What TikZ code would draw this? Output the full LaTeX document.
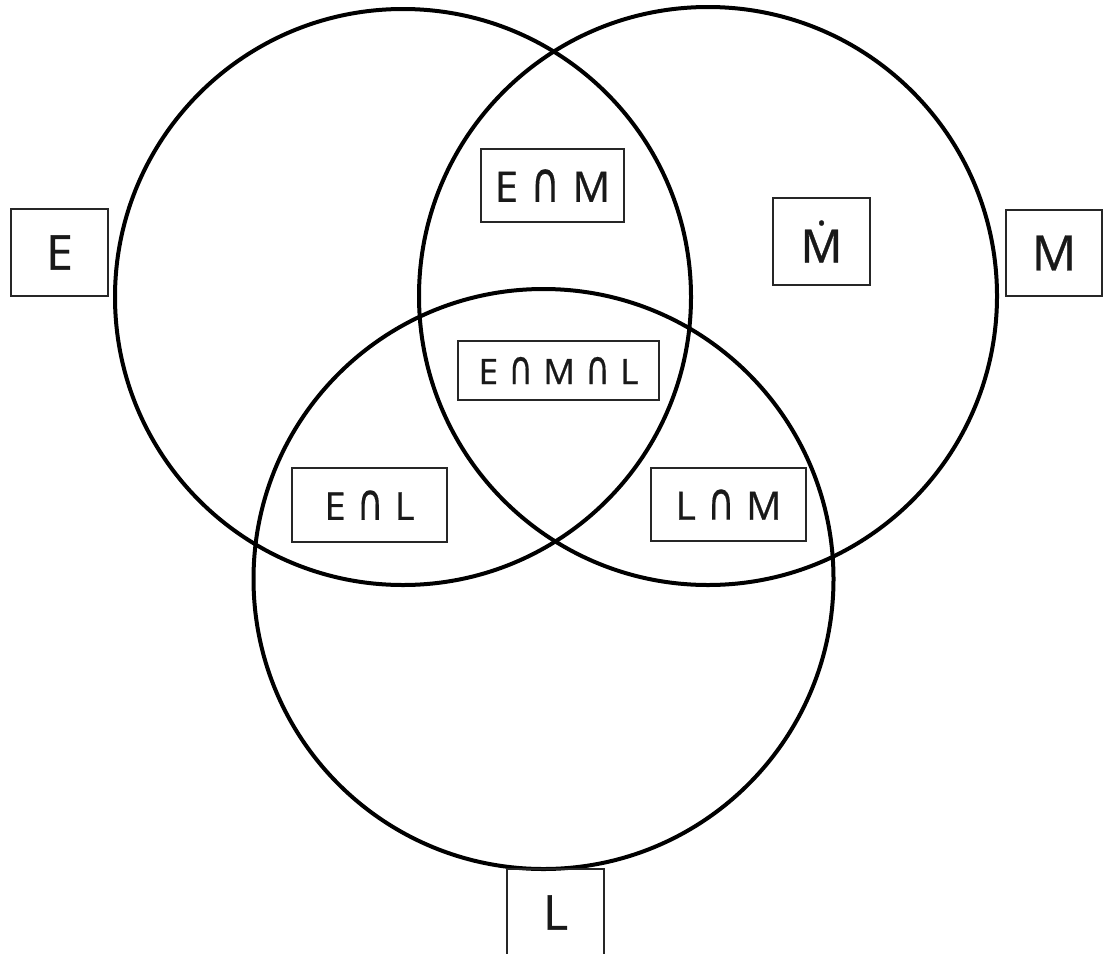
\documentclass[tikz,border=0pt]{standalone}
\usepackage{fontspec}
\usepackage{graphicx}
\setmainfont{Open Sans}[FakeBold=0.7]
\newfontfamily\symfont{DejaVu Sans}[FakeBold=0.3]
\newfontfamily\notofont{Noto Sans}[FakeBold=0.7]
\newcommand{\capop}{\hspace{0.3em}\scalebox{0.95}[1.34]{\symfont\char"2229}\hspace{0.3em}}
\begin{document}
\begin{tikzpicture}[x=1pt,y=-1pt,
  ring/.style={circle,draw=black,line width=4pt,inner sep=0pt},
  lbl/.style={draw=black!85,line width=1.6pt,inner sep=0pt,align=center,text=black!90}]
\useasboundingbox (0,0) rectangle (1107,953);
\clip (0,0) rectangle (1107,953);
\node[ring,minimum size=576pt] (cE) at (403,297) {};
\node[ring,minimum size=578pt] (cM) at (708,296) {};
\node[ring,minimum size=580pt] (cL) at (543.5,579) {};
\node[lbl,minimum width=97pt,minimum height=87pt,font=\fontsize{48}{50}\selectfont] (bE) at (59.5,252.5) {E};
\node[lbl,minimum width=96pt,minimum height=86pt,font=\fontsize{49}{50}\selectfont] (bM) at (1054,253) {M};
\node[lbl,minimum width=97pt,minimum height=87pt,font=\fontsize{48}{50}\selectfont] (bL) at (555.5,912.5) {L};
\node[lbl,minimum width=97pt,minimum height=87pt,font=\notofont\fontsize{46}{50}\selectfont] (bMd) at (821.5,241.5) {Ṁ};
\node[lbl,minimum width=143pt,minimum height=73pt,font=\fontsize{42}{44}\selectfont] (bEM) at (552.5,185.5) {E\capop M};
\node[lbl,minimum width=201pt,minimum height=59pt,font=\fontsize{35}{40}\selectfont] (bEML) at (558.5,370.5) {E\capop M\capop L};
\node[lbl,minimum width=155pt,minimum height=74pt,font=\fontsize{38}{42}\selectfont] (bEL) at (369.5,505) {E\capop L};
\node[lbl,minimum width=155pt,minimum height=73pt,font=\fontsize{39}{42}\selectfont] (bLM) at (728.5,504.5) {L\capop M};
\end{tikzpicture}
\end{document}
